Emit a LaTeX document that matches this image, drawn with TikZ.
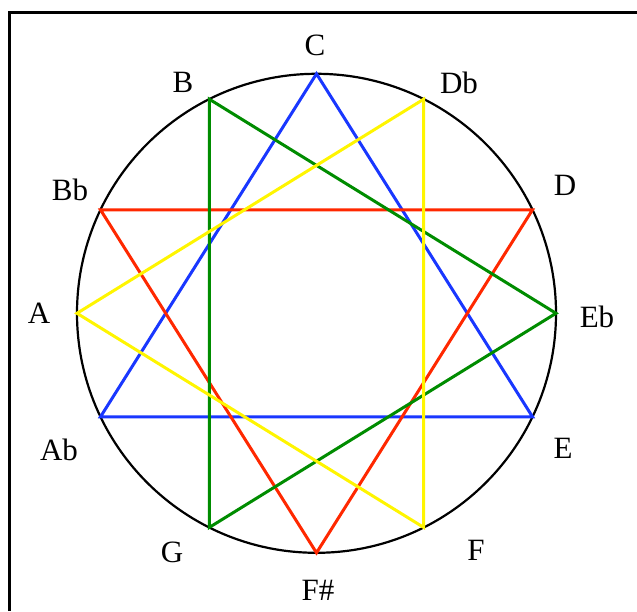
\documentclass[tikz,border=0pt]{standalone}
\usepackage{fontspec}
\setmainfont{Liberation Serif}
\usetikzlibrary{positioning}

\definecolor{cblue}{RGB}{25,55,255}
\definecolor{cred}{RGB}{255,40,0}
\definecolor{cgreen}{RGB}{0,140,0}
\definecolor{cyellow}{RGB}{255,245,0}

\begin{document}
\begin{tikzpicture}[
    x=1pt,
    y=1pt,
    note/.style={
        font=\fontsize{31}{37}\selectfont,
        inner sep=0pt
    },
    triad/.style={
        line width=3pt,
        line join=miter
    }
]
\useasboundingbox (0,0) rectangle (637,611);

% Frame
\draw[line width=3pt] (9,0) -- (9,598) -- (637,598);

% Circle
\coordinate (o) at (316.5,297.7);
\draw[line width=2.2pt] (o) circle (239.5);

% Points on the circle
\foreach \n/\a in {C/90,Db/63.4,D/25.6,Eb/0,E/-25.6,F/-63.4,Fs/-90,G/-116.6,Ab/-154.4,A/180,Bb/154.4,B/116.6}
    \coordinate (\n) at ([shift={(\a:239.5)}]o);

% Nodes
\node[note] (lC) at (315,566) {C};
\node[note] (lDb) at (459,528) {Db};
\node[note] (lD) at (565,426) {D};
\node[note] (lEb) at (597,294) {Eb};
\node[note] (lE) at (563,163) {E};
\node[note] (lF) at (476,61) {F};
\node[note] (lFs) at (318,21) {F\#};
\node[note] (lG) at (172,59) {G};
\node[note] (lAb) at (59,161) {Ab};
\node[note] (lA) at (39,298) {A};
\node[note] (lBb) at (70,421) {Bb};
\node[note] (lB) at (183,529) {B};

% Triads
\draw[triad, cblue] (C) -- (E) -- (Ab) -- cycle;
\draw[triad, cred] (Bb) -- (D) -- (Fs) -- cycle;
\draw[triad, cgreen] (B) -- (Eb) -- (G) -- cycle;
\draw[triad, cyellow] (Db) -- (F) -- (A) -- cycle;

\end{tikzpicture}
\end{document}
